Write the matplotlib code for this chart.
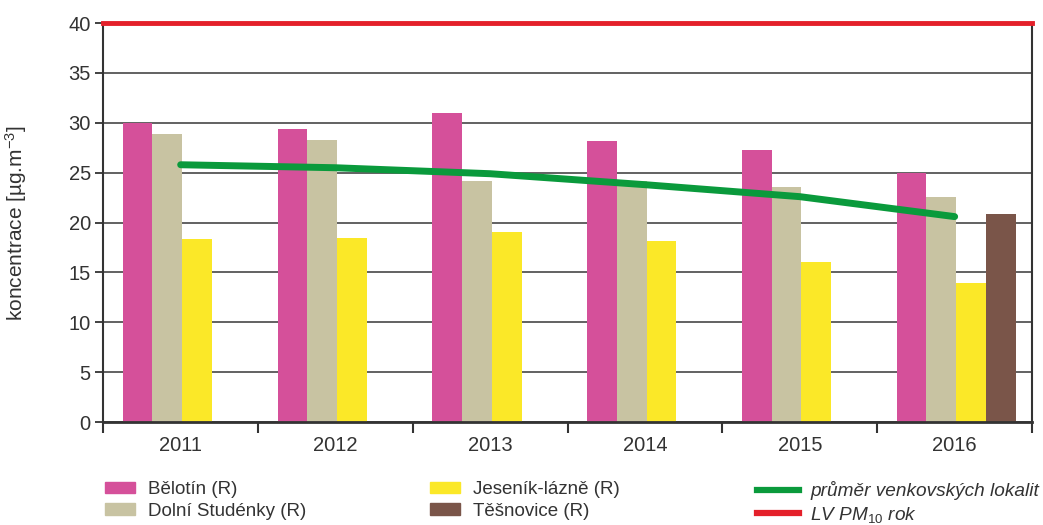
import matplotlib.pyplot as plt
import numpy as np
from matplotlib.patches import Patch
from matplotlib.lines import Line2D

plt.rcParams['font.family'] = ['Liberation Sans', 'DejaVu Sans']
plt.rcParams['mathtext.fontset'] = 'custom'
plt.rcParams['mathtext.rm'] = 'Liberation Sans'
plt.rcParams['mathtext.it'] = 'Liberation Sans:italic'

# data
years = ["2011", "2012", "2013", "2014", "2015", "2016"]
belotin = [30.0, 29.4, 31.0, 28.2, 27.3, 25.0]
dolni_studenky = [28.9, 28.3, 24.2, 24.2, 23.6, 22.6]
jesenik = [18.4, 18.5, 19.1, 18.2, 16.1, 13.9]
tesnovice = [np.nan, np.nan, np.nan, np.nan, np.nan, 20.9]
prumer = [25.8, 25.5, 24.9, 23.8, 22.6, 20.6]
limit = 40

series = [("Bělotín (R)", belotin, "#D5509A"),
          ("Dolní Studénky (R)", dolni_studenky, "#C8C3A2"),
          ("Jeseník-lázně (R)", jesenik, "#FBE828"),
          ("Těšnovice (R)", tesnovice, "#7A5549")]

fig = plt.figure(figsize=(10.43, 5.25), dpi=100)
ax = fig.add_axes([0.099, 0.196, 0.8905, 0.760])

x = np.arange(len(years))
w = 0.192
offsets = [-1.5 * w, -0.5 * w, 0.5 * w, 1.5 * w]
for (name, vals, col), off in zip(series, offsets):
    ax.bar(x + off + 0.01, vals, width=w, color=col, zorder=2, label=name)

ax.plot(x, prumer, color="#0A9A3C", lw=5, solid_capstyle="round", zorder=4)
ax.axhline(limit, color="#E4202A", lw=3.5, zorder=5, clip_on=False)

ax.set_xlim(-0.5, len(years) - 0.5)
ax.set_ylim(0, 40)
ax.set_yticks(range(0, 41, 5))
ax.yaxis.grid(True, color="#555555", lw=1.3, zorder=0)
ax.set_axisbelow(True)

# category boundary ticks, labels at centres
ax.set_xticks(np.arange(-0.5, len(years)), minor=False)
ax.set_xticklabels([])
ax.set_xticks(x, minor=True)
ax.set_xticklabels(years, minor=True)
ax.tick_params(axis="x", which="major", length=8, width=1.5, color="#333333")
ax.tick_params(axis="x", which="minor", length=0, pad=10, labelsize=14.5, colors="#333333")
ax.tick_params(axis="y", length=6, width=1.3, color="#333333", labelsize=14.5, labelcolor="#333333", pad=3)

for s in ["left", "right", "bottom"]:
    ax.spines[s].set_color("#333333")
ax.spines["bottom"].set_linewidth(2)
ax.spines["left"].set_linewidth(1.5)
ax.spines["right"].set_linewidth(1.5)
ax.spines["top"].set_visible(False)

ax.set_ylabel("koncentrace [µg.m$^{-3}$]", fontsize=15, color="#333333", labelpad=28)

# legend: three separate blocks under the plot
h = [Patch(color=c) for _, _, c in series]
lab = [n for n, _, _ in series]
kw = dict(frameon=False, fontsize=13.5, handlelength=1.6, handleheight=0.55,
          handletextpad=0.7, labelspacing=0.22, borderpad=0, borderaxespad=0,
          loc="upper left")
leg1 = fig.legend(h[:2], lab[:2], bbox_to_anchor=(0.1007, 0.083), **kw)
leg2 = fig.legend(h[2:], lab[2:], bbox_to_anchor=(0.4123, 0.083), **kw)
lines = [Line2D([], [], color="#0A9A3C", lw=4.5), Line2D([], [], color="#E4202A", lw=4.5)]
kw3 = dict(kw, handlelength=2.2, handletextpad=0.6, prop={"style": "italic", "size": 13.7})
kw3.pop("fontsize")
leg3 = fig.legend(lines, ["průměr venkovských lokalit", "LV PM$_{\\mathit{10}}$ rok"],
                  bbox_to_anchor=(0.7258, 0.083), **kw3)
for lg in (leg1, leg2, leg3):
    for t in lg.get_texts():
        t.set_color("#333333")

fig.savefig("out.png", dpi=100)
